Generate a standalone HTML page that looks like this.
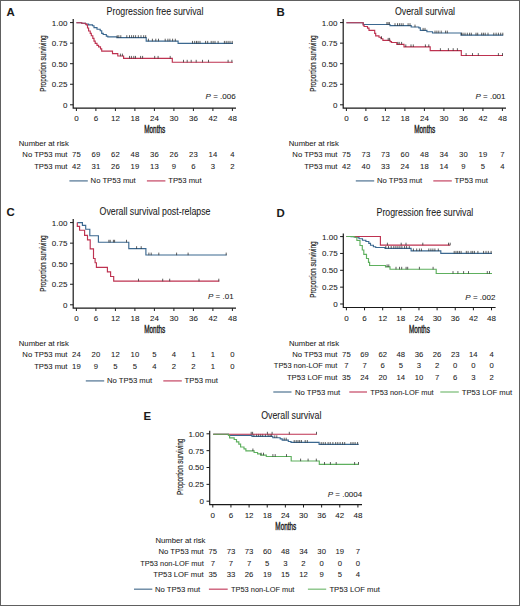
<!DOCTYPE html>
<html><head><meta charset="utf-8"><style>
html,body{margin:0;padding:0;background:#fff;}
body{width:520px;height:606px;overflow:hidden;}
svg{display:block;}
svg text{font-family:"Liberation Sans", sans-serif;fill:#1a1a1a;stroke:#1a1a1a;stroke-width:0.06px;}
</style></head><body>
<svg width="520" height="606" viewBox="0 0 520 606">
<rect x="0" y="0" width="520" height="606" fill="#fff"/>
<text transform="translate(6.50,16.00)" font-size="11.4" font-weight="bold">A</text>
<text transform="translate(155.00,14.70) scale(0.978,1.12)" font-size="9.0" text-anchor="middle">Progression free survival</text>
<path d="M73.20 19.00V108.20H236.00" fill="none" stroke="#1a1a1a" stroke-width="1.2"/>
<line x1="70.00" y1="22.60" x2="73.20" y2="22.60" stroke="#1a1a1a" stroke-width="1.0"/>
<text transform="translate(67.40,25.50)" font-size="8.0" text-anchor="end">1.00</text>
<line x1="70.00" y1="43.15" x2="73.20" y2="43.15" stroke="#1a1a1a" stroke-width="1.0"/>
<text transform="translate(67.40,46.05)" font-size="8.0" text-anchor="end">0.75</text>
<line x1="70.00" y1="63.70" x2="73.20" y2="63.70" stroke="#1a1a1a" stroke-width="1.0"/>
<text transform="translate(67.40,66.60)" font-size="8.0" text-anchor="end">0.50</text>
<line x1="70.00" y1="84.25" x2="73.20" y2="84.25" stroke="#1a1a1a" stroke-width="1.0"/>
<text transform="translate(67.40,87.15)" font-size="8.0" text-anchor="end">0.25</text>
<line x1="70.00" y1="104.80" x2="73.20" y2="104.80" stroke="#1a1a1a" stroke-width="1.0"/>
<text transform="translate(67.40,107.70)" font-size="8.0" text-anchor="end">0</text>
<line x1="76.40" y1="108.20" x2="76.40" y2="111.00" stroke="#1a1a1a" stroke-width="1.0"/>
<text transform="translate(76.40,120.90)" font-size="8.0" text-anchor="middle">0</text>
<line x1="95.90" y1="108.20" x2="95.90" y2="111.00" stroke="#1a1a1a" stroke-width="1.0"/>
<text transform="translate(95.90,120.90)" font-size="8.0" text-anchor="middle">6</text>
<line x1="115.40" y1="108.20" x2="115.40" y2="111.00" stroke="#1a1a1a" stroke-width="1.0"/>
<text transform="translate(115.40,120.90)" font-size="8.0" text-anchor="middle">12</text>
<line x1="134.90" y1="108.20" x2="134.90" y2="111.00" stroke="#1a1a1a" stroke-width="1.0"/>
<text transform="translate(134.90,120.90)" font-size="8.0" text-anchor="middle">18</text>
<line x1="154.40" y1="108.20" x2="154.40" y2="111.00" stroke="#1a1a1a" stroke-width="1.0"/>
<text transform="translate(154.40,120.90)" font-size="8.0" text-anchor="middle">24</text>
<line x1="173.90" y1="108.20" x2="173.90" y2="111.00" stroke="#1a1a1a" stroke-width="1.0"/>
<text transform="translate(173.90,120.90)" font-size="8.0" text-anchor="middle">30</text>
<line x1="193.40" y1="108.20" x2="193.40" y2="111.00" stroke="#1a1a1a" stroke-width="1.0"/>
<text transform="translate(193.40,120.90)" font-size="8.0" text-anchor="middle">36</text>
<line x1="212.90" y1="108.20" x2="212.90" y2="111.00" stroke="#1a1a1a" stroke-width="1.0"/>
<text transform="translate(212.90,120.90)" font-size="8.0" text-anchor="middle">42</text>
<line x1="232.40" y1="108.20" x2="232.40" y2="111.00" stroke="#1a1a1a" stroke-width="1.0"/>
<text transform="translate(232.40,120.90)" font-size="8.0" text-anchor="middle">48</text>
<text transform="translate(46.00,63.60) rotate(-90) scale(0.71,1.07)" font-size="9.0" style="stroke-width:0.15px" text-anchor="middle">Proportion surviving</text>
<text transform="translate(154.70,133.40) scale(0.71,1.15)" font-size="9.0" style="stroke-width:0.35px" text-anchor="middle">Months</text>
<text transform="translate(235.60,98.50) scale(1,1.0)" font-size="8" text-anchor="end"><tspan font-style="italic">P</tspan> = .006</text>
<text transform="translate(18.80,145.80)" font-size="7.7">Number at risk</text>
<text transform="translate(67.50,157.00)" font-size="7.7" text-anchor="end">No TP53 mut</text>
<text transform="translate(76.40,157.00)" font-size="7.7" text-anchor="middle">75</text>
<text transform="translate(95.90,157.00)" font-size="7.7" text-anchor="middle">69</text>
<text transform="translate(115.40,157.00)" font-size="7.7" text-anchor="middle">62</text>
<text transform="translate(134.90,157.00)" font-size="7.7" text-anchor="middle">48</text>
<text transform="translate(154.40,157.00)" font-size="7.7" text-anchor="middle">36</text>
<text transform="translate(173.90,157.00)" font-size="7.7" text-anchor="middle">26</text>
<text transform="translate(193.40,157.00)" font-size="7.7" text-anchor="middle">23</text>
<text transform="translate(212.90,157.00)" font-size="7.7" text-anchor="middle">14</text>
<text transform="translate(232.40,157.00)" font-size="7.7" text-anchor="middle">4</text>
<text transform="translate(67.50,168.80)" font-size="7.7" text-anchor="end">TP53 mut</text>
<text transform="translate(76.40,168.80)" font-size="7.7" text-anchor="middle">42</text>
<text transform="translate(95.90,168.80)" font-size="7.7" text-anchor="middle">31</text>
<text transform="translate(115.40,168.80)" font-size="7.7" text-anchor="middle">26</text>
<text transform="translate(134.90,168.80)" font-size="7.7" text-anchor="middle">19</text>
<text transform="translate(154.40,168.80)" font-size="7.7" text-anchor="middle">13</text>
<text transform="translate(173.90,168.80)" font-size="7.7" text-anchor="middle">9</text>
<text transform="translate(193.40,168.80)" font-size="7.7" text-anchor="middle">6</text>
<text transform="translate(212.90,168.80)" font-size="7.7" text-anchor="middle">3</text>
<text transform="translate(232.40,168.80)" font-size="7.7" text-anchor="middle">2</text>
<path d="M76.40 22.70H81.70V23.20H85.50V24.00H88.60V24.80H92.50V25.70H94.00V27.60H97.00V29.20H100.20V30.70H101.70V33.40H103.20V34.50H106.30V36.10H107.80V36.80H116.90V37.60H146.20V41.10H178.10V43.30H233.00" fill="none" stroke="#3b6890" stroke-width="1.15"/>
<line x1="117.20" y1="37.80" x2="117.20" y2="35.20" stroke="#2a2a2a" stroke-width="0.75"/>
<line x1="118.80" y1="37.80" x2="118.80" y2="35.20" stroke="#2a2a2a" stroke-width="0.75"/>
<line x1="120.80" y1="37.80" x2="120.80" y2="35.20" stroke="#2a2a2a" stroke-width="0.75"/>
<line x1="126.80" y1="37.80" x2="126.80" y2="35.20" stroke="#2a2a2a" stroke-width="0.75"/>
<line x1="129.50" y1="37.80" x2="129.50" y2="35.20" stroke="#2a2a2a" stroke-width="0.75"/>
<line x1="131.60" y1="37.80" x2="131.60" y2="35.20" stroke="#2a2a2a" stroke-width="0.75"/>
<line x1="133.60" y1="37.80" x2="133.60" y2="35.20" stroke="#2a2a2a" stroke-width="0.75"/>
<line x1="135.60" y1="37.80" x2="135.60" y2="35.20" stroke="#2a2a2a" stroke-width="0.75"/>
<line x1="138.30" y1="37.80" x2="138.30" y2="35.20" stroke="#2a2a2a" stroke-width="0.75"/>
<line x1="141.00" y1="37.80" x2="141.00" y2="35.20" stroke="#2a2a2a" stroke-width="0.75"/>
<line x1="143.70" y1="37.80" x2="143.70" y2="35.20" stroke="#2a2a2a" stroke-width="0.75"/>
<line x1="145.70" y1="37.80" x2="145.70" y2="35.20" stroke="#2a2a2a" stroke-width="0.75"/>
<line x1="148.40" y1="41.30" x2="148.40" y2="38.70" stroke="#2a2a2a" stroke-width="0.75"/>
<line x1="152.40" y1="41.30" x2="152.40" y2="38.70" stroke="#2a2a2a" stroke-width="0.75"/>
<line x1="155.80" y1="41.30" x2="155.80" y2="38.70" stroke="#2a2a2a" stroke-width="0.75"/>
<line x1="158.50" y1="41.30" x2="158.50" y2="38.70" stroke="#2a2a2a" stroke-width="0.75"/>
<line x1="165.20" y1="41.30" x2="165.20" y2="38.70" stroke="#2a2a2a" stroke-width="0.75"/>
<line x1="167.90" y1="41.30" x2="167.90" y2="38.70" stroke="#2a2a2a" stroke-width="0.75"/>
<line x1="169.90" y1="41.30" x2="169.90" y2="38.70" stroke="#2a2a2a" stroke-width="0.75"/>
<line x1="172.60" y1="41.30" x2="172.60" y2="38.70" stroke="#2a2a2a" stroke-width="0.75"/>
<line x1="175.30" y1="41.30" x2="175.30" y2="38.70" stroke="#2a2a2a" stroke-width="0.75"/>
<line x1="192.50" y1="43.50" x2="192.50" y2="40.90" stroke="#2a2a2a" stroke-width="0.75"/>
<line x1="194.70" y1="43.50" x2="194.70" y2="40.90" stroke="#2a2a2a" stroke-width="0.75"/>
<line x1="196.50" y1="43.50" x2="196.50" y2="40.90" stroke="#2a2a2a" stroke-width="0.75"/>
<line x1="198.10" y1="43.50" x2="198.10" y2="40.90" stroke="#2a2a2a" stroke-width="0.75"/>
<line x1="200.00" y1="43.50" x2="200.00" y2="40.90" stroke="#2a2a2a" stroke-width="0.75"/>
<line x1="205.60" y1="43.50" x2="205.60" y2="40.90" stroke="#2a2a2a" stroke-width="0.75"/>
<line x1="207.70" y1="43.50" x2="207.70" y2="40.90" stroke="#2a2a2a" stroke-width="0.75"/>
<line x1="211.20" y1="43.50" x2="211.20" y2="40.90" stroke="#2a2a2a" stroke-width="0.75"/>
<line x1="213.10" y1="43.50" x2="213.10" y2="40.90" stroke="#2a2a2a" stroke-width="0.75"/>
<line x1="215.00" y1="43.50" x2="215.00" y2="40.90" stroke="#2a2a2a" stroke-width="0.75"/>
<line x1="218.10" y1="43.50" x2="218.10" y2="40.90" stroke="#2a2a2a" stroke-width="0.75"/>
<line x1="224.40" y1="43.50" x2="224.40" y2="40.90" stroke="#2a2a2a" stroke-width="0.75"/>
<line x1="226.20" y1="43.50" x2="226.20" y2="40.90" stroke="#2a2a2a" stroke-width="0.75"/>
<line x1="228.10" y1="43.50" x2="228.10" y2="40.90" stroke="#2a2a2a" stroke-width="0.75"/>
<line x1="230.00" y1="43.50" x2="230.00" y2="40.90" stroke="#2a2a2a" stroke-width="0.75"/>
<line x1="232.20" y1="43.50" x2="232.20" y2="40.90" stroke="#2a2a2a" stroke-width="0.75"/>
<path d="M76.40 22.70H81.70V23.20H85.50V24.00H86.30V24.90H87.50V28.00H88.60V31.00H90.20V33.40H91.30V35.70H92.80V38.40H94.00V41.10H95.20V43.40H97.00V45.30H98.60V46.80H100.50V48.80H101.70V51.10H112.50V53.60H117.80V56.00H123.60V58.30H172.30V62.20H232.80" fill="none" stroke="#be3250" stroke-width="1.15"/>
<line x1="120.40" y1="56.20" x2="120.40" y2="53.60" stroke="#2a2a2a" stroke-width="0.75"/>
<line x1="122.40" y1="56.20" x2="122.40" y2="53.60" stroke="#2a2a2a" stroke-width="0.75"/>
<line x1="129.50" y1="58.50" x2="129.50" y2="55.90" stroke="#2a2a2a" stroke-width="0.75"/>
<line x1="131.40" y1="58.50" x2="131.40" y2="55.90" stroke="#2a2a2a" stroke-width="0.75"/>
<line x1="133.80" y1="58.50" x2="133.80" y2="55.90" stroke="#2a2a2a" stroke-width="0.75"/>
<line x1="135.50" y1="58.50" x2="135.50" y2="55.90" stroke="#2a2a2a" stroke-width="0.75"/>
<line x1="140.60" y1="58.50" x2="140.60" y2="55.90" stroke="#2a2a2a" stroke-width="0.75"/>
<line x1="142.60" y1="58.50" x2="142.60" y2="55.90" stroke="#2a2a2a" stroke-width="0.75"/>
<line x1="154.70" y1="58.50" x2="154.70" y2="55.90" stroke="#2a2a2a" stroke-width="0.75"/>
<line x1="158.10" y1="58.50" x2="158.10" y2="55.90" stroke="#2a2a2a" stroke-width="0.75"/>
<line x1="170.20" y1="58.50" x2="170.20" y2="55.90" stroke="#2a2a2a" stroke-width="0.75"/>
<line x1="183.50" y1="62.40" x2="183.50" y2="59.80" stroke="#2a2a2a" stroke-width="0.75"/>
<line x1="187.20" y1="62.40" x2="187.20" y2="59.80" stroke="#2a2a2a" stroke-width="0.75"/>
<line x1="191.20" y1="62.40" x2="191.20" y2="59.80" stroke="#2a2a2a" stroke-width="0.75"/>
<line x1="196.20" y1="62.40" x2="196.20" y2="59.80" stroke="#2a2a2a" stroke-width="0.75"/>
<line x1="202.50" y1="62.40" x2="202.50" y2="59.80" stroke="#2a2a2a" stroke-width="0.75"/>
<line x1="208.50" y1="62.40" x2="208.50" y2="59.80" stroke="#2a2a2a" stroke-width="0.75"/>
<line x1="228.10" y1="62.40" x2="228.10" y2="59.80" stroke="#2a2a2a" stroke-width="0.75"/>
<line x1="231.90" y1="62.40" x2="231.90" y2="59.80" stroke="#2a2a2a" stroke-width="0.75"/>
<line x1="69.40" y1="180.90" x2="87.80" y2="180.90" stroke="#5b7d9a" stroke-width="1.3"/>
<text transform="translate(90.60,183.40)" font-size="7.7">No TP53 mut</text>
<line x1="146.90" y1="180.90" x2="165.40" y2="180.90" stroke="#c9526e" stroke-width="1.3"/>
<text transform="translate(168.20,183.40)" font-size="7.7">TP53 mut</text>
<text transform="translate(276.50,16.00)" font-size="11.4" font-weight="bold">B</text>
<text transform="translate(425.00,14.70) scale(0.978,1.12)" font-size="9.0" text-anchor="middle">Overall survival</text>
<path d="M343.20 19.00V108.20H506.00" fill="none" stroke="#1a1a1a" stroke-width="1.2"/>
<line x1="340.00" y1="22.60" x2="343.20" y2="22.60" stroke="#1a1a1a" stroke-width="1.0"/>
<text transform="translate(337.40,25.50)" font-size="8.0" text-anchor="end">1.00</text>
<line x1="340.00" y1="43.15" x2="343.20" y2="43.15" stroke="#1a1a1a" stroke-width="1.0"/>
<text transform="translate(337.40,46.05)" font-size="8.0" text-anchor="end">0.75</text>
<line x1="340.00" y1="63.70" x2="343.20" y2="63.70" stroke="#1a1a1a" stroke-width="1.0"/>
<text transform="translate(337.40,66.60)" font-size="8.0" text-anchor="end">0.50</text>
<line x1="340.00" y1="84.25" x2="343.20" y2="84.25" stroke="#1a1a1a" stroke-width="1.0"/>
<text transform="translate(337.40,87.15)" font-size="8.0" text-anchor="end">0.25</text>
<line x1="340.00" y1="104.80" x2="343.20" y2="104.80" stroke="#1a1a1a" stroke-width="1.0"/>
<text transform="translate(337.40,107.70)" font-size="8.0" text-anchor="end">0</text>
<line x1="346.40" y1="108.20" x2="346.40" y2="111.00" stroke="#1a1a1a" stroke-width="1.0"/>
<text transform="translate(346.40,120.90)" font-size="8.0" text-anchor="middle">0</text>
<line x1="365.90" y1="108.20" x2="365.90" y2="111.00" stroke="#1a1a1a" stroke-width="1.0"/>
<text transform="translate(365.90,120.90)" font-size="8.0" text-anchor="middle">6</text>
<line x1="385.40" y1="108.20" x2="385.40" y2="111.00" stroke="#1a1a1a" stroke-width="1.0"/>
<text transform="translate(385.40,120.90)" font-size="8.0" text-anchor="middle">12</text>
<line x1="404.90" y1="108.20" x2="404.90" y2="111.00" stroke="#1a1a1a" stroke-width="1.0"/>
<text transform="translate(404.90,120.90)" font-size="8.0" text-anchor="middle">18</text>
<line x1="424.40" y1="108.20" x2="424.40" y2="111.00" stroke="#1a1a1a" stroke-width="1.0"/>
<text transform="translate(424.40,120.90)" font-size="8.0" text-anchor="middle">24</text>
<line x1="443.90" y1="108.20" x2="443.90" y2="111.00" stroke="#1a1a1a" stroke-width="1.0"/>
<text transform="translate(443.90,120.90)" font-size="8.0" text-anchor="middle">30</text>
<line x1="463.40" y1="108.20" x2="463.40" y2="111.00" stroke="#1a1a1a" stroke-width="1.0"/>
<text transform="translate(463.40,120.90)" font-size="8.0" text-anchor="middle">36</text>
<line x1="482.90" y1="108.20" x2="482.90" y2="111.00" stroke="#1a1a1a" stroke-width="1.0"/>
<text transform="translate(482.90,120.90)" font-size="8.0" text-anchor="middle">42</text>
<line x1="502.40" y1="108.20" x2="502.40" y2="111.00" stroke="#1a1a1a" stroke-width="1.0"/>
<text transform="translate(502.40,120.90)" font-size="8.0" text-anchor="middle">48</text>
<text transform="translate(316.00,63.60) rotate(-90) scale(0.71,1.07)" font-size="9.0" style="stroke-width:0.15px" text-anchor="middle">Proportion surviving</text>
<text transform="translate(424.70,133.40) scale(0.71,1.15)" font-size="9.0" style="stroke-width:0.35px" text-anchor="middle">Months</text>
<text transform="translate(505.50,98.50) scale(1,1.0)" font-size="8" text-anchor="end"><tspan font-style="italic">P</tspan> = .001</text>
<text transform="translate(288.80,145.80)" font-size="7.7">Number at risk</text>
<text transform="translate(337.50,157.00)" font-size="7.7" text-anchor="end">No TP53 mut</text>
<text transform="translate(346.40,157.00)" font-size="7.7" text-anchor="middle">75</text>
<text transform="translate(365.90,157.00)" font-size="7.7" text-anchor="middle">73</text>
<text transform="translate(385.40,157.00)" font-size="7.7" text-anchor="middle">73</text>
<text transform="translate(404.90,157.00)" font-size="7.7" text-anchor="middle">60</text>
<text transform="translate(424.40,157.00)" font-size="7.7" text-anchor="middle">48</text>
<text transform="translate(443.90,157.00)" font-size="7.7" text-anchor="middle">34</text>
<text transform="translate(463.40,157.00)" font-size="7.7" text-anchor="middle">30</text>
<text transform="translate(482.90,157.00)" font-size="7.7" text-anchor="middle">19</text>
<text transform="translate(502.40,157.00)" font-size="7.7" text-anchor="middle">7</text>
<text transform="translate(337.50,168.80)" font-size="7.7" text-anchor="end">TP53 mut</text>
<text transform="translate(346.40,168.80)" font-size="7.7" text-anchor="middle">42</text>
<text transform="translate(365.90,168.80)" font-size="7.7" text-anchor="middle">40</text>
<text transform="translate(385.40,168.80)" font-size="7.7" text-anchor="middle">33</text>
<text transform="translate(404.90,168.80)" font-size="7.7" text-anchor="middle">24</text>
<text transform="translate(424.40,168.80)" font-size="7.7" text-anchor="middle">18</text>
<text transform="translate(443.90,168.80)" font-size="7.7" text-anchor="middle">14</text>
<text transform="translate(463.40,168.80)" font-size="7.7" text-anchor="middle">9</text>
<text transform="translate(482.90,168.80)" font-size="7.7" text-anchor="middle">5</text>
<text transform="translate(502.40,168.80)" font-size="7.7" text-anchor="middle">4</text>
<path d="M346.40 22.70H363.20V24.50H390.00V25.60H411.20V27.00H418.80V27.80H420.30V30.30H426.90V31.70H432.50V33.00H461.00V35.10H503.20" fill="none" stroke="#3b6890" stroke-width="1.15"/>
<line x1="386.90" y1="24.70" x2="386.90" y2="22.10" stroke="#2a2a2a" stroke-width="0.75"/>
<line x1="388.10" y1="24.70" x2="388.10" y2="22.10" stroke="#2a2a2a" stroke-width="0.75"/>
<line x1="389.40" y1="24.70" x2="389.40" y2="22.10" stroke="#2a2a2a" stroke-width="0.75"/>
<line x1="395.00" y1="25.80" x2="395.00" y2="23.20" stroke="#2a2a2a" stroke-width="0.75"/>
<line x1="397.50" y1="25.80" x2="397.50" y2="23.20" stroke="#2a2a2a" stroke-width="0.75"/>
<line x1="399.40" y1="25.80" x2="399.40" y2="23.20" stroke="#2a2a2a" stroke-width="0.75"/>
<line x1="401.20" y1="25.80" x2="401.20" y2="23.20" stroke="#2a2a2a" stroke-width="0.75"/>
<line x1="403.10" y1="25.80" x2="403.10" y2="23.20" stroke="#2a2a2a" stroke-width="0.75"/>
<line x1="408.10" y1="25.80" x2="408.10" y2="23.20" stroke="#2a2a2a" stroke-width="0.75"/>
<line x1="410.00" y1="25.80" x2="410.00" y2="23.20" stroke="#2a2a2a" stroke-width="0.75"/>
<line x1="415.00" y1="27.20" x2="415.00" y2="24.60" stroke="#2a2a2a" stroke-width="0.75"/>
<line x1="423.10" y1="30.50" x2="423.10" y2="27.90" stroke="#2a2a2a" stroke-width="0.75"/>
<line x1="425.00" y1="30.50" x2="425.00" y2="27.90" stroke="#2a2a2a" stroke-width="0.75"/>
<line x1="435.00" y1="33.20" x2="435.00" y2="30.60" stroke="#2a2a2a" stroke-width="0.75"/>
<line x1="436.90" y1="33.20" x2="436.90" y2="30.60" stroke="#2a2a2a" stroke-width="0.75"/>
<line x1="438.80" y1="33.20" x2="438.80" y2="30.60" stroke="#2a2a2a" stroke-width="0.75"/>
<line x1="441.20" y1="33.20" x2="441.20" y2="30.60" stroke="#2a2a2a" stroke-width="0.75"/>
<line x1="445.60" y1="33.20" x2="445.60" y2="30.60" stroke="#2a2a2a" stroke-width="0.75"/>
<line x1="447.30" y1="33.20" x2="447.30" y2="30.60" stroke="#2a2a2a" stroke-width="0.75"/>
<line x1="461.50" y1="35.30" x2="461.50" y2="32.70" stroke="#2a2a2a" stroke-width="0.75"/>
<line x1="463.00" y1="35.30" x2="463.00" y2="32.70" stroke="#2a2a2a" stroke-width="0.75"/>
<line x1="465.00" y1="35.30" x2="465.00" y2="32.70" stroke="#2a2a2a" stroke-width="0.75"/>
<line x1="467.30" y1="35.30" x2="467.30" y2="32.70" stroke="#2a2a2a" stroke-width="0.75"/>
<line x1="469.60" y1="35.30" x2="469.60" y2="32.70" stroke="#2a2a2a" stroke-width="0.75"/>
<line x1="471.30" y1="35.30" x2="471.30" y2="32.70" stroke="#2a2a2a" stroke-width="0.75"/>
<line x1="476.00" y1="35.30" x2="476.00" y2="32.70" stroke="#2a2a2a" stroke-width="0.75"/>
<line x1="477.70" y1="35.30" x2="477.70" y2="32.70" stroke="#2a2a2a" stroke-width="0.75"/>
<line x1="481.70" y1="35.30" x2="481.70" y2="32.70" stroke="#2a2a2a" stroke-width="0.75"/>
<line x1="483.40" y1="35.30" x2="483.40" y2="32.70" stroke="#2a2a2a" stroke-width="0.75"/>
<line x1="485.20" y1="35.30" x2="485.20" y2="32.70" stroke="#2a2a2a" stroke-width="0.75"/>
<line x1="488.00" y1="35.30" x2="488.00" y2="32.70" stroke="#2a2a2a" stroke-width="0.75"/>
<line x1="493.80" y1="35.30" x2="493.80" y2="32.70" stroke="#2a2a2a" stroke-width="0.75"/>
<line x1="496.10" y1="35.30" x2="496.10" y2="32.70" stroke="#2a2a2a" stroke-width="0.75"/>
<line x1="498.40" y1="35.30" x2="498.40" y2="32.70" stroke="#2a2a2a" stroke-width="0.75"/>
<line x1="500.70" y1="35.30" x2="500.70" y2="32.70" stroke="#2a2a2a" stroke-width="0.75"/>
<line x1="502.80" y1="35.30" x2="502.80" y2="32.70" stroke="#2a2a2a" stroke-width="0.75"/>
<path d="M346.40 22.70H363.20V25.20H364.10V26.50H367.50V28.10H369.00V30.30H374.70V33.40H375.70V35.80H379.00V37.20H381.00V38.70H382.90V40.30H390.10V41.60H391.50V42.50H396.80V44.30H404.00V46.80H430.20V50.60H461.30V55.50H503.00" fill="none" stroke="#be3250" stroke-width="1.15"/>
<line x1="381.50" y1="38.90" x2="381.50" y2="36.30" stroke="#2a2a2a" stroke-width="0.75"/>
<line x1="388.20" y1="40.50" x2="388.20" y2="37.90" stroke="#2a2a2a" stroke-width="0.75"/>
<line x1="389.60" y1="40.50" x2="389.60" y2="37.90" stroke="#2a2a2a" stroke-width="0.75"/>
<line x1="397.80" y1="44.50" x2="397.80" y2="41.90" stroke="#2a2a2a" stroke-width="0.75"/>
<line x1="399.20" y1="44.50" x2="399.20" y2="41.90" stroke="#2a2a2a" stroke-width="0.75"/>
<line x1="401.60" y1="44.50" x2="401.60" y2="41.90" stroke="#2a2a2a" stroke-width="0.75"/>
<line x1="405.80" y1="47.00" x2="405.80" y2="44.40" stroke="#2a2a2a" stroke-width="0.75"/>
<line x1="411.00" y1="47.00" x2="411.00" y2="44.40" stroke="#2a2a2a" stroke-width="0.75"/>
<line x1="413.30" y1="47.00" x2="413.30" y2="44.40" stroke="#2a2a2a" stroke-width="0.75"/>
<line x1="425.40" y1="47.00" x2="425.40" y2="44.40" stroke="#2a2a2a" stroke-width="0.75"/>
<line x1="428.80" y1="47.00" x2="428.80" y2="44.40" stroke="#2a2a2a" stroke-width="0.75"/>
<line x1="440.40" y1="50.80" x2="440.40" y2="48.20" stroke="#2a2a2a" stroke-width="0.75"/>
<line x1="448.40" y1="50.80" x2="448.40" y2="48.20" stroke="#2a2a2a" stroke-width="0.75"/>
<line x1="453.20" y1="50.80" x2="453.20" y2="48.20" stroke="#2a2a2a" stroke-width="0.75"/>
<line x1="457.40" y1="50.80" x2="457.40" y2="48.20" stroke="#2a2a2a" stroke-width="0.75"/>
<line x1="466.10" y1="55.70" x2="466.10" y2="53.10" stroke="#2a2a2a" stroke-width="0.75"/>
<line x1="472.50" y1="55.70" x2="472.50" y2="53.10" stroke="#2a2a2a" stroke-width="0.75"/>
<line x1="478.30" y1="55.70" x2="478.30" y2="53.10" stroke="#2a2a2a" stroke-width="0.75"/>
<line x1="498.40" y1="55.70" x2="498.40" y2="53.10" stroke="#2a2a2a" stroke-width="0.75"/>
<line x1="502.50" y1="55.70" x2="502.50" y2="53.10" stroke="#2a2a2a" stroke-width="0.75"/>
<line x1="355.80" y1="180.90" x2="374.20" y2="180.90" stroke="#5b7d9a" stroke-width="1.3"/>
<text transform="translate(377.00,183.40)" font-size="7.7">No TP53 mut</text>
<line x1="433.30" y1="180.90" x2="451.80" y2="180.90" stroke="#c9526e" stroke-width="1.3"/>
<text transform="translate(454.60,183.40)" font-size="7.7">TP53 mut</text>
<text transform="translate(6.50,216.00)" font-size="11.4" font-weight="bold">C</text>
<text transform="translate(155.00,214.70) scale(0.978,1.12)" font-size="9.0" text-anchor="middle">Overall survival post-relapse</text>
<path d="M73.20 219.00V308.20H236.00" fill="none" stroke="#1a1a1a" stroke-width="1.2"/>
<line x1="70.00" y1="222.60" x2="73.20" y2="222.60" stroke="#1a1a1a" stroke-width="1.0"/>
<text transform="translate(67.40,225.50)" font-size="8.0" text-anchor="end">1.00</text>
<line x1="70.00" y1="243.15" x2="73.20" y2="243.15" stroke="#1a1a1a" stroke-width="1.0"/>
<text transform="translate(67.40,246.05)" font-size="8.0" text-anchor="end">0.75</text>
<line x1="70.00" y1="263.70" x2="73.20" y2="263.70" stroke="#1a1a1a" stroke-width="1.0"/>
<text transform="translate(67.40,266.60)" font-size="8.0" text-anchor="end">0.50</text>
<line x1="70.00" y1="284.25" x2="73.20" y2="284.25" stroke="#1a1a1a" stroke-width="1.0"/>
<text transform="translate(67.40,287.15)" font-size="8.0" text-anchor="end">0.25</text>
<line x1="70.00" y1="304.80" x2="73.20" y2="304.80" stroke="#1a1a1a" stroke-width="1.0"/>
<text transform="translate(67.40,307.70)" font-size="8.0" text-anchor="end">0</text>
<line x1="76.40" y1="308.20" x2="76.40" y2="311.00" stroke="#1a1a1a" stroke-width="1.0"/>
<text transform="translate(76.40,320.90)" font-size="8.0" text-anchor="middle">0</text>
<line x1="95.90" y1="308.20" x2="95.90" y2="311.00" stroke="#1a1a1a" stroke-width="1.0"/>
<text transform="translate(95.90,320.90)" font-size="8.0" text-anchor="middle">6</text>
<line x1="115.40" y1="308.20" x2="115.40" y2="311.00" stroke="#1a1a1a" stroke-width="1.0"/>
<text transform="translate(115.40,320.90)" font-size="8.0" text-anchor="middle">12</text>
<line x1="134.90" y1="308.20" x2="134.90" y2="311.00" stroke="#1a1a1a" stroke-width="1.0"/>
<text transform="translate(134.90,320.90)" font-size="8.0" text-anchor="middle">18</text>
<line x1="154.40" y1="308.20" x2="154.40" y2="311.00" stroke="#1a1a1a" stroke-width="1.0"/>
<text transform="translate(154.40,320.90)" font-size="8.0" text-anchor="middle">24</text>
<line x1="173.90" y1="308.20" x2="173.90" y2="311.00" stroke="#1a1a1a" stroke-width="1.0"/>
<text transform="translate(173.90,320.90)" font-size="8.0" text-anchor="middle">30</text>
<line x1="193.40" y1="308.20" x2="193.40" y2="311.00" stroke="#1a1a1a" stroke-width="1.0"/>
<text transform="translate(193.40,320.90)" font-size="8.0" text-anchor="middle">36</text>
<line x1="212.90" y1="308.20" x2="212.90" y2="311.00" stroke="#1a1a1a" stroke-width="1.0"/>
<text transform="translate(212.90,320.90)" font-size="8.0" text-anchor="middle">42</text>
<line x1="232.40" y1="308.20" x2="232.40" y2="311.00" stroke="#1a1a1a" stroke-width="1.0"/>
<text transform="translate(232.40,320.90)" font-size="8.0" text-anchor="middle">48</text>
<text transform="translate(46.00,263.60) rotate(-90) scale(0.71,1.07)" font-size="9.0" style="stroke-width:0.15px" text-anchor="middle">Proportion surviving</text>
<text transform="translate(154.70,333.40) scale(0.71,1.15)" font-size="9.0" style="stroke-width:0.35px" text-anchor="middle">Months</text>
<text transform="translate(233.60,298.50) scale(1,1.0)" font-size="8" text-anchor="end"><tspan font-style="italic">P</tspan> = .01</text>
<text transform="translate(18.80,345.80)" font-size="7.7">Number at risk</text>
<text transform="translate(67.50,357.00)" font-size="7.7" text-anchor="end">No TP53 mut</text>
<text transform="translate(76.40,357.00)" font-size="7.7" text-anchor="middle">24</text>
<text transform="translate(95.90,357.00)" font-size="7.7" text-anchor="middle">20</text>
<text transform="translate(115.40,357.00)" font-size="7.7" text-anchor="middle">12</text>
<text transform="translate(134.90,357.00)" font-size="7.7" text-anchor="middle">10</text>
<text transform="translate(154.40,357.00)" font-size="7.7" text-anchor="middle">5</text>
<text transform="translate(173.90,357.00)" font-size="7.7" text-anchor="middle">4</text>
<text transform="translate(193.40,357.00)" font-size="7.7" text-anchor="middle">1</text>
<text transform="translate(212.90,357.00)" font-size="7.7" text-anchor="middle">1</text>
<text transform="translate(232.40,357.00)" font-size="7.7" text-anchor="middle">0</text>
<text transform="translate(67.50,368.80)" font-size="7.7" text-anchor="end">TP53 mut</text>
<text transform="translate(76.40,368.80)" font-size="7.7" text-anchor="middle">19</text>
<text transform="translate(95.90,368.80)" font-size="7.7" text-anchor="middle">9</text>
<text transform="translate(115.40,368.80)" font-size="7.7" text-anchor="middle">5</text>
<text transform="translate(134.90,368.80)" font-size="7.7" text-anchor="middle">5</text>
<text transform="translate(154.40,368.80)" font-size="7.7" text-anchor="middle">4</text>
<text transform="translate(173.90,368.80)" font-size="7.7" text-anchor="middle">2</text>
<text transform="translate(193.40,368.80)" font-size="7.7" text-anchor="middle">2</text>
<text transform="translate(212.90,368.80)" font-size="7.7" text-anchor="middle">1</text>
<text transform="translate(232.40,368.80)" font-size="7.7" text-anchor="middle">0</text>
<path d="M77.30 222.60H82.40V225.30H85.70V229.20H89.80V235.70H98.40V242.20H128.80V248.60H145.90V255.00H226.70" fill="none" stroke="#3b6890" stroke-width="1.15"/>
<line x1="108.90" y1="242.40" x2="108.90" y2="239.80" stroke="#2a2a2a" stroke-width="0.75"/>
<line x1="110.20" y1="242.40" x2="110.20" y2="239.80" stroke="#2a2a2a" stroke-width="0.75"/>
<line x1="113.40" y1="242.40" x2="113.40" y2="239.80" stroke="#2a2a2a" stroke-width="0.75"/>
<line x1="114.60" y1="242.40" x2="114.60" y2="239.80" stroke="#2a2a2a" stroke-width="0.75"/>
<line x1="126.50" y1="242.40" x2="126.50" y2="239.80" stroke="#2a2a2a" stroke-width="0.75"/>
<line x1="136.60" y1="248.80" x2="136.60" y2="246.20" stroke="#2a2a2a" stroke-width="0.75"/>
<line x1="141.20" y1="248.80" x2="141.20" y2="246.20" stroke="#2a2a2a" stroke-width="0.75"/>
<line x1="148.90" y1="255.20" x2="148.90" y2="252.60" stroke="#2a2a2a" stroke-width="0.75"/>
<line x1="151.20" y1="255.20" x2="151.20" y2="252.60" stroke="#2a2a2a" stroke-width="0.75"/>
<line x1="158.80" y1="255.20" x2="158.80" y2="252.60" stroke="#2a2a2a" stroke-width="0.75"/>
<line x1="176.60" y1="255.20" x2="176.60" y2="252.60" stroke="#2a2a2a" stroke-width="0.75"/>
<line x1="188.10" y1="255.20" x2="188.10" y2="252.60" stroke="#2a2a2a" stroke-width="0.75"/>
<line x1="226.20" y1="255.20" x2="226.20" y2="252.60" stroke="#2a2a2a" stroke-width="0.75"/>
<path d="M77.30 222.60H77.30V226.40H79.60V230.20H84.60V235.30H87.50V239.80H90.20V248.80H93.50V258.50H95.10V262.70H96.40V267.30H107.40V271.90H110.60V276.50H113.70V281.10H219.30" fill="none" stroke="#be3250" stroke-width="1.15"/>
<line x1="138.50" y1="281.30" x2="138.50" y2="278.70" stroke="#2a2a2a" stroke-width="0.75"/>
<line x1="162.70" y1="281.30" x2="162.70" y2="278.70" stroke="#2a2a2a" stroke-width="0.75"/>
<line x1="169.70" y1="281.30" x2="169.70" y2="278.70" stroke="#2a2a2a" stroke-width="0.75"/>
<line x1="199.00" y1="281.30" x2="199.00" y2="278.70" stroke="#2a2a2a" stroke-width="0.75"/>
<line x1="218.80" y1="281.30" x2="218.80" y2="278.70" stroke="#2a2a2a" stroke-width="0.75"/>
<line x1="85.80" y1="380.90" x2="104.20" y2="380.90" stroke="#5b7d9a" stroke-width="1.3"/>
<text transform="translate(107.00,383.40)" font-size="7.7">No TP53 mut</text>
<line x1="163.30" y1="380.90" x2="181.80" y2="380.90" stroke="#c9526e" stroke-width="1.3"/>
<text transform="translate(184.60,383.40)" font-size="7.7">TP53 mut</text>
<text transform="translate(276.60,216.50)" font-size="11.4" font-weight="bold">D</text>
<text transform="translate(424.90,215.60) scale(0.978,1.12)" font-size="9.0" text-anchor="middle">Progression free survival</text>
<path d="M343.30 233.50V307.50H495.60" fill="none" stroke="#1a1a1a" stroke-width="1.2"/>
<line x1="340.10" y1="236.60" x2="343.30" y2="236.60" stroke="#1a1a1a" stroke-width="1.0"/>
<text transform="translate(337.60,239.50)" font-size="8.0" text-anchor="end">1.00</text>
<line x1="340.10" y1="253.45" x2="343.30" y2="253.45" stroke="#1a1a1a" stroke-width="1.0"/>
<text transform="translate(337.60,256.35)" font-size="8.0" text-anchor="end">0.75</text>
<line x1="340.10" y1="270.30" x2="343.30" y2="270.30" stroke="#1a1a1a" stroke-width="1.0"/>
<text transform="translate(337.60,273.20)" font-size="8.0" text-anchor="end">0.50</text>
<line x1="340.10" y1="287.15" x2="343.30" y2="287.15" stroke="#1a1a1a" stroke-width="1.0"/>
<text transform="translate(337.60,290.05)" font-size="8.0" text-anchor="end">0.25</text>
<line x1="340.10" y1="304.00" x2="343.30" y2="304.00" stroke="#1a1a1a" stroke-width="1.0"/>
<text transform="translate(337.60,306.90)" font-size="8.0" text-anchor="end">0</text>
<line x1="346.40" y1="307.50" x2="346.40" y2="310.30" stroke="#1a1a1a" stroke-width="1.0"/>
<text transform="translate(346.40,320.70)" font-size="8.0" text-anchor="middle">0</text>
<line x1="364.54" y1="307.50" x2="364.54" y2="310.30" stroke="#1a1a1a" stroke-width="1.0"/>
<text transform="translate(364.54,320.70)" font-size="8.0" text-anchor="middle">6</text>
<line x1="382.68" y1="307.50" x2="382.68" y2="310.30" stroke="#1a1a1a" stroke-width="1.0"/>
<text transform="translate(382.68,320.70)" font-size="8.0" text-anchor="middle">12</text>
<line x1="400.82" y1="307.50" x2="400.82" y2="310.30" stroke="#1a1a1a" stroke-width="1.0"/>
<text transform="translate(400.82,320.70)" font-size="8.0" text-anchor="middle">18</text>
<line x1="418.96" y1="307.50" x2="418.96" y2="310.30" stroke="#1a1a1a" stroke-width="1.0"/>
<text transform="translate(418.96,320.70)" font-size="8.0" text-anchor="middle">24</text>
<line x1="437.10" y1="307.50" x2="437.10" y2="310.30" stroke="#1a1a1a" stroke-width="1.0"/>
<text transform="translate(437.10,320.70)" font-size="8.0" text-anchor="middle">30</text>
<line x1="455.24" y1="307.50" x2="455.24" y2="310.30" stroke="#1a1a1a" stroke-width="1.0"/>
<text transform="translate(455.24,320.70)" font-size="8.0" text-anchor="middle">36</text>
<line x1="473.38" y1="307.50" x2="473.38" y2="310.30" stroke="#1a1a1a" stroke-width="1.0"/>
<text transform="translate(473.38,320.70)" font-size="8.0" text-anchor="middle">42</text>
<line x1="491.52" y1="307.50" x2="491.52" y2="310.30" stroke="#1a1a1a" stroke-width="1.0"/>
<text transform="translate(491.52,320.70)" font-size="8.0" text-anchor="middle">48</text>
<text transform="translate(316.40,269.60) rotate(-90) scale(0.71,1.07)" font-size="9.0" style="stroke-width:0.15px" text-anchor="middle">Proportion surviving</text>
<text transform="translate(419.40,333.20) scale(0.71,1.15)" font-size="9.0" style="stroke-width:0.35px" text-anchor="middle">Months</text>
<text transform="translate(495.40,299.60) scale(1,1.0)" font-size="8" text-anchor="end"><tspan font-style="italic">P</tspan> = .002</text>
<text transform="translate(289.00,345.70)" font-size="7.7">Number at risk</text>
<text transform="translate(337.30,356.90)" font-size="7.7" text-anchor="end">No TP53 mut</text>
<text transform="translate(346.40,356.90)" font-size="7.7" text-anchor="middle">75</text>
<text transform="translate(364.54,356.90)" font-size="7.7" text-anchor="middle">69</text>
<text transform="translate(382.68,356.90)" font-size="7.7" text-anchor="middle">62</text>
<text transform="translate(400.82,356.90)" font-size="7.7" text-anchor="middle">48</text>
<text transform="translate(418.96,356.90)" font-size="7.7" text-anchor="middle">36</text>
<text transform="translate(437.10,356.90)" font-size="7.7" text-anchor="middle">26</text>
<text transform="translate(455.24,356.90)" font-size="7.7" text-anchor="middle">23</text>
<text transform="translate(473.38,356.90)" font-size="7.7" text-anchor="middle">14</text>
<text transform="translate(491.52,356.90)" font-size="7.7" text-anchor="middle">4</text>
<text transform="translate(337.30,368.40) scale(0.965,1.0)" font-size="7.7" text-anchor="end">TP53 non-LOF mut</text>
<text transform="translate(346.40,368.40)" font-size="7.7" text-anchor="middle">7</text>
<text transform="translate(364.54,368.40)" font-size="7.7" text-anchor="middle">7</text>
<text transform="translate(382.68,368.40)" font-size="7.7" text-anchor="middle">6</text>
<text transform="translate(400.82,368.40)" font-size="7.7" text-anchor="middle">5</text>
<text transform="translate(418.96,368.40)" font-size="7.7" text-anchor="middle">3</text>
<text transform="translate(437.10,368.40)" font-size="7.7" text-anchor="middle">2</text>
<text transform="translate(455.24,368.40)" font-size="7.7" text-anchor="middle">0</text>
<text transform="translate(473.38,368.40)" font-size="7.7" text-anchor="middle">0</text>
<text transform="translate(491.52,368.40)" font-size="7.7" text-anchor="middle">0</text>
<text transform="translate(337.30,379.90)" font-size="7.7" text-anchor="end">TP53 LOF mut</text>
<text transform="translate(346.40,379.90)" font-size="7.7" text-anchor="middle">35</text>
<text transform="translate(364.54,379.90)" font-size="7.7" text-anchor="middle">24</text>
<text transform="translate(382.68,379.90)" font-size="7.7" text-anchor="middle">20</text>
<text transform="translate(400.82,379.90)" font-size="7.7" text-anchor="middle">14</text>
<text transform="translate(418.96,379.90)" font-size="7.7" text-anchor="middle">10</text>
<text transform="translate(437.10,379.90)" font-size="7.7" text-anchor="middle">7</text>
<text transform="translate(455.24,379.90)" font-size="7.7" text-anchor="middle">6</text>
<text transform="translate(473.38,379.90)" font-size="7.7" text-anchor="middle">3</text>
<text transform="translate(491.52,379.90)" font-size="7.7" text-anchor="middle">2</text>
<path d="M346.50 236.50H351.00V236.70H355.50V237.20H359.00V238.70H362.50V240.20H365.90V241.50H368.80V243.30H370.50V245.20H373.40V246.70H375.70V247.50H385.00V248.30H411.10V250.90H440.80V253.30H492.00" fill="none" stroke="#3b6890" stroke-width="1.15"/>
<line x1="385.80" y1="248.50" x2="385.80" y2="245.90" stroke="#2a2a2a" stroke-width="0.75"/>
<line x1="388.50" y1="248.50" x2="388.50" y2="245.90" stroke="#2a2a2a" stroke-width="0.75"/>
<line x1="391.20" y1="248.50" x2="391.20" y2="245.90" stroke="#2a2a2a" stroke-width="0.75"/>
<line x1="393.80" y1="248.50" x2="393.80" y2="245.90" stroke="#2a2a2a" stroke-width="0.75"/>
<line x1="395.90" y1="248.50" x2="395.90" y2="245.90" stroke="#2a2a2a" stroke-width="0.75"/>
<line x1="397.90" y1="248.50" x2="397.90" y2="245.90" stroke="#2a2a2a" stroke-width="0.75"/>
<line x1="399.90" y1="248.50" x2="399.90" y2="245.90" stroke="#2a2a2a" stroke-width="0.75"/>
<line x1="401.90" y1="248.50" x2="401.90" y2="245.90" stroke="#2a2a2a" stroke-width="0.75"/>
<line x1="404.60" y1="248.50" x2="404.60" y2="245.90" stroke="#2a2a2a" stroke-width="0.75"/>
<line x1="406.60" y1="248.50" x2="406.60" y2="245.90" stroke="#2a2a2a" stroke-width="0.75"/>
<line x1="409.30" y1="248.50" x2="409.30" y2="245.90" stroke="#2a2a2a" stroke-width="0.75"/>
<line x1="413.40" y1="251.10" x2="413.40" y2="248.50" stroke="#2a2a2a" stroke-width="0.75"/>
<line x1="416.70" y1="251.10" x2="416.70" y2="248.50" stroke="#2a2a2a" stroke-width="0.75"/>
<line x1="419.40" y1="251.10" x2="419.40" y2="248.50" stroke="#2a2a2a" stroke-width="0.75"/>
<line x1="421.40" y1="251.10" x2="421.40" y2="248.50" stroke="#2a2a2a" stroke-width="0.75"/>
<line x1="428.80" y1="251.10" x2="428.80" y2="248.50" stroke="#2a2a2a" stroke-width="0.75"/>
<line x1="430.90" y1="251.10" x2="430.90" y2="248.50" stroke="#2a2a2a" stroke-width="0.75"/>
<line x1="432.90" y1="251.10" x2="432.90" y2="248.50" stroke="#2a2a2a" stroke-width="0.75"/>
<line x1="434.90" y1="251.10" x2="434.90" y2="248.50" stroke="#2a2a2a" stroke-width="0.75"/>
<line x1="438.30" y1="251.10" x2="438.30" y2="248.50" stroke="#2a2a2a" stroke-width="0.75"/>
<line x1="454.20" y1="253.50" x2="454.20" y2="250.90" stroke="#2a2a2a" stroke-width="0.75"/>
<line x1="456.00" y1="253.50" x2="456.00" y2="250.90" stroke="#2a2a2a" stroke-width="0.75"/>
<line x1="457.70" y1="253.50" x2="457.70" y2="250.90" stroke="#2a2a2a" stroke-width="0.75"/>
<line x1="459.40" y1="253.50" x2="459.40" y2="250.90" stroke="#2a2a2a" stroke-width="0.75"/>
<line x1="461.10" y1="253.50" x2="461.10" y2="250.90" stroke="#2a2a2a" stroke-width="0.75"/>
<line x1="466.30" y1="253.50" x2="466.30" y2="250.90" stroke="#2a2a2a" stroke-width="0.75"/>
<line x1="468.10" y1="253.50" x2="468.10" y2="250.90" stroke="#2a2a2a" stroke-width="0.75"/>
<line x1="471.00" y1="253.50" x2="471.00" y2="250.90" stroke="#2a2a2a" stroke-width="0.75"/>
<line x1="472.70" y1="253.50" x2="472.70" y2="250.90" stroke="#2a2a2a" stroke-width="0.75"/>
<line x1="474.40" y1="253.50" x2="474.40" y2="250.90" stroke="#2a2a2a" stroke-width="0.75"/>
<line x1="477.90" y1="253.50" x2="477.90" y2="250.90" stroke="#2a2a2a" stroke-width="0.75"/>
<line x1="483.60" y1="253.50" x2="483.60" y2="250.90" stroke="#2a2a2a" stroke-width="0.75"/>
<line x1="486.00" y1="253.50" x2="486.00" y2="250.90" stroke="#2a2a2a" stroke-width="0.75"/>
<line x1="488.30" y1="253.50" x2="488.30" y2="250.90" stroke="#2a2a2a" stroke-width="0.75"/>
<line x1="491.10" y1="253.50" x2="491.10" y2="250.90" stroke="#2a2a2a" stroke-width="0.75"/>
<path d="M346.50 236.50H380.40V245.10H450.10" fill="none" stroke="#be3250" stroke-width="1.15"/>
<line x1="387.40" y1="245.30" x2="387.40" y2="242.70" stroke="#2a2a2a" stroke-width="0.75"/>
<line x1="401.20" y1="245.30" x2="401.20" y2="242.70" stroke="#2a2a2a" stroke-width="0.75"/>
<line x1="406.00" y1="245.30" x2="406.00" y2="242.70" stroke="#2a2a2a" stroke-width="0.75"/>
<line x1="422.80" y1="245.30" x2="422.80" y2="242.70" stroke="#2a2a2a" stroke-width="0.75"/>
<line x1="448.50" y1="245.30" x2="448.50" y2="242.70" stroke="#2a2a2a" stroke-width="0.75"/>
<line x1="450.20" y1="245.30" x2="450.20" y2="242.70" stroke="#2a2a2a" stroke-width="0.75"/>
<path d="M346.50 236.50H354.20V237.20H356.90V240.50H360.00V245.50H362.30V250.00H363.80V254.30H366.50V258.50H368.50V262.40H369.60V265.50H385.50V266.80H390.00V269.20H436.20V273.50H492.00" fill="none" stroke="#5eb05e" stroke-width="1.15"/>
<line x1="387.10" y1="267.00" x2="387.10" y2="264.40" stroke="#2a2a2a" stroke-width="0.75"/>
<line x1="388.80" y1="267.00" x2="388.80" y2="264.40" stroke="#2a2a2a" stroke-width="0.75"/>
<line x1="396.00" y1="269.40" x2="396.00" y2="266.80" stroke="#2a2a2a" stroke-width="0.75"/>
<line x1="399.50" y1="269.40" x2="399.50" y2="266.80" stroke="#2a2a2a" stroke-width="0.75"/>
<line x1="401.70" y1="269.40" x2="401.70" y2="266.80" stroke="#2a2a2a" stroke-width="0.75"/>
<line x1="406.10" y1="269.40" x2="406.10" y2="266.80" stroke="#2a2a2a" stroke-width="0.75"/>
<line x1="407.70" y1="269.40" x2="407.70" y2="266.80" stroke="#2a2a2a" stroke-width="0.75"/>
<line x1="419.40" y1="269.40" x2="419.40" y2="266.80" stroke="#2a2a2a" stroke-width="0.75"/>
<line x1="433.10" y1="269.40" x2="433.10" y2="266.80" stroke="#2a2a2a" stroke-width="0.75"/>
<line x1="453.00" y1="273.70" x2="453.00" y2="271.10" stroke="#2a2a2a" stroke-width="0.75"/>
<line x1="457.90" y1="273.70" x2="457.90" y2="271.10" stroke="#2a2a2a" stroke-width="0.75"/>
<line x1="463.60" y1="273.70" x2="463.60" y2="271.10" stroke="#2a2a2a" stroke-width="0.75"/>
<line x1="468.50" y1="273.70" x2="468.50" y2="271.10" stroke="#2a2a2a" stroke-width="0.75"/>
<line x1="487.30" y1="273.70" x2="487.30" y2="271.10" stroke="#2a2a2a" stroke-width="0.75"/>
<line x1="489.50" y1="273.70" x2="489.50" y2="271.10" stroke="#2a2a2a" stroke-width="0.75"/>
<line x1="273.30" y1="392.00" x2="291.50" y2="392.00" stroke="#5b7d9a" stroke-width="1.3"/>
<text transform="translate(295.00,394.60)" font-size="7.7">No TP53 mut</text>
<line x1="349.30" y1="392.00" x2="367.00" y2="392.00" stroke="#c9526e" stroke-width="1.3"/>
<text transform="translate(370.20,394.60) scale(0.965,1.0)" font-size="7.7">TP53 non-LOF mut</text>
<line x1="440.30" y1="392.00" x2="458.80" y2="392.00" stroke="#80c07e" stroke-width="1.3"/>
<text transform="translate(461.70,394.60)" font-size="7.7">TP53 LOF mut</text>
<text transform="translate(143.60,420.30)" font-size="11.4" font-weight="bold">E</text>
<text transform="translate(291.30,419.40) scale(0.978,1.12)" font-size="9.0" text-anchor="middle">Overall survival</text>
<path d="M209.70 430.70V504.70H362.00" fill="none" stroke="#1a1a1a" stroke-width="1.2"/>
<line x1="206.50" y1="433.80" x2="209.70" y2="433.80" stroke="#1a1a1a" stroke-width="1.0"/>
<text transform="translate(204.00,436.70)" font-size="8.0" text-anchor="end">1.00</text>
<line x1="206.50" y1="450.65" x2="209.70" y2="450.65" stroke="#1a1a1a" stroke-width="1.0"/>
<text transform="translate(204.00,453.55)" font-size="8.0" text-anchor="end">0.75</text>
<line x1="206.50" y1="467.50" x2="209.70" y2="467.50" stroke="#1a1a1a" stroke-width="1.0"/>
<text transform="translate(204.00,470.40)" font-size="8.0" text-anchor="end">0.50</text>
<line x1="206.50" y1="484.35" x2="209.70" y2="484.35" stroke="#1a1a1a" stroke-width="1.0"/>
<text transform="translate(204.00,487.25)" font-size="8.0" text-anchor="end">0.25</text>
<line x1="206.50" y1="501.20" x2="209.70" y2="501.20" stroke="#1a1a1a" stroke-width="1.0"/>
<text transform="translate(204.00,504.10)" font-size="8.0" text-anchor="end">0</text>
<line x1="212.80" y1="504.70" x2="212.80" y2="507.50" stroke="#1a1a1a" stroke-width="1.0"/>
<text transform="translate(212.80,517.90)" font-size="8.0" text-anchor="middle">0</text>
<line x1="230.94" y1="504.70" x2="230.94" y2="507.50" stroke="#1a1a1a" stroke-width="1.0"/>
<text transform="translate(230.94,517.90)" font-size="8.0" text-anchor="middle">6</text>
<line x1="249.08" y1="504.70" x2="249.08" y2="507.50" stroke="#1a1a1a" stroke-width="1.0"/>
<text transform="translate(249.08,517.90)" font-size="8.0" text-anchor="middle">12</text>
<line x1="267.22" y1="504.70" x2="267.22" y2="507.50" stroke="#1a1a1a" stroke-width="1.0"/>
<text transform="translate(267.22,517.90)" font-size="8.0" text-anchor="middle">18</text>
<line x1="285.36" y1="504.70" x2="285.36" y2="507.50" stroke="#1a1a1a" stroke-width="1.0"/>
<text transform="translate(285.36,517.90)" font-size="8.0" text-anchor="middle">24</text>
<line x1="303.50" y1="504.70" x2="303.50" y2="507.50" stroke="#1a1a1a" stroke-width="1.0"/>
<text transform="translate(303.50,517.90)" font-size="8.0" text-anchor="middle">30</text>
<line x1="321.64" y1="504.70" x2="321.64" y2="507.50" stroke="#1a1a1a" stroke-width="1.0"/>
<text transform="translate(321.64,517.90)" font-size="8.0" text-anchor="middle">36</text>
<line x1="339.78" y1="504.70" x2="339.78" y2="507.50" stroke="#1a1a1a" stroke-width="1.0"/>
<text transform="translate(339.78,517.90)" font-size="8.0" text-anchor="middle">42</text>
<line x1="357.92" y1="504.70" x2="357.92" y2="507.50" stroke="#1a1a1a" stroke-width="1.0"/>
<text transform="translate(357.92,517.90)" font-size="8.0" text-anchor="middle">48</text>
<text transform="translate(182.80,466.80) rotate(-90) scale(0.71,1.07)" font-size="9.0" style="stroke-width:0.15px" text-anchor="middle">Proportion surviving</text>
<text transform="translate(285.80,530.40) scale(0.71,1.15)" font-size="9.0" style="stroke-width:0.35px" text-anchor="middle">Months</text>
<text transform="translate(362.20,496.80) scale(1,1.0)" font-size="8" text-anchor="end"><tspan font-style="italic">P</tspan> = .0004</text>
<text transform="translate(155.40,542.90)" font-size="7.7">Number at risk</text>
<text transform="translate(203.70,554.10)" font-size="7.7" text-anchor="end">No TP53 mut</text>
<text transform="translate(212.80,554.10)" font-size="7.7" text-anchor="middle">75</text>
<text transform="translate(230.94,554.10)" font-size="7.7" text-anchor="middle">73</text>
<text transform="translate(249.08,554.10)" font-size="7.7" text-anchor="middle">73</text>
<text transform="translate(267.22,554.10)" font-size="7.7" text-anchor="middle">60</text>
<text transform="translate(285.36,554.10)" font-size="7.7" text-anchor="middle">48</text>
<text transform="translate(303.50,554.10)" font-size="7.7" text-anchor="middle">34</text>
<text transform="translate(321.64,554.10)" font-size="7.7" text-anchor="middle">30</text>
<text transform="translate(339.78,554.10)" font-size="7.7" text-anchor="middle">19</text>
<text transform="translate(357.92,554.10)" font-size="7.7" text-anchor="middle">7</text>
<text transform="translate(203.70,565.60) scale(0.965,1.0)" font-size="7.7" text-anchor="end">TP53 non-LOF mut</text>
<text transform="translate(212.80,565.60)" font-size="7.7" text-anchor="middle">7</text>
<text transform="translate(230.94,565.60)" font-size="7.7" text-anchor="middle">7</text>
<text transform="translate(249.08,565.60)" font-size="7.7" text-anchor="middle">7</text>
<text transform="translate(267.22,565.60)" font-size="7.7" text-anchor="middle">5</text>
<text transform="translate(285.36,565.60)" font-size="7.7" text-anchor="middle">3</text>
<text transform="translate(303.50,565.60)" font-size="7.7" text-anchor="middle">2</text>
<text transform="translate(321.64,565.60)" font-size="7.7" text-anchor="middle">0</text>
<text transform="translate(339.78,565.60)" font-size="7.7" text-anchor="middle">0</text>
<text transform="translate(357.92,565.60)" font-size="7.7" text-anchor="middle">0</text>
<text transform="translate(203.70,577.10)" font-size="7.7" text-anchor="end">TP53 LOF mut</text>
<text transform="translate(212.80,577.10)" font-size="7.7" text-anchor="middle">35</text>
<text transform="translate(230.94,577.10)" font-size="7.7" text-anchor="middle">33</text>
<text transform="translate(249.08,577.10)" font-size="7.7" text-anchor="middle">26</text>
<text transform="translate(267.22,577.10)" font-size="7.7" text-anchor="middle">19</text>
<text transform="translate(285.36,577.10)" font-size="7.7" text-anchor="middle">15</text>
<text transform="translate(303.50,577.10)" font-size="7.7" text-anchor="middle">12</text>
<text transform="translate(321.64,577.10)" font-size="7.7" text-anchor="middle">9</text>
<text transform="translate(339.78,577.10)" font-size="7.7" text-anchor="middle">5</text>
<text transform="translate(357.92,577.10)" font-size="7.7" text-anchor="middle">4</text>
<path d="M213.20 434.20H228.50V435.30H252.00V436.30H272.80V437.70H280.20V438.80H282.20V440.10H288.30V441.50H291.00V442.40H319.10V444.40H358.70" fill="none" stroke="#3b6890" stroke-width="1.15"/>
<line x1="253.90" y1="436.50" x2="253.90" y2="433.90" stroke="#2a2a2a" stroke-width="0.75"/>
<line x1="256.60" y1="436.50" x2="256.60" y2="433.90" stroke="#2a2a2a" stroke-width="0.75"/>
<line x1="258.60" y1="436.50" x2="258.60" y2="433.90" stroke="#2a2a2a" stroke-width="0.75"/>
<line x1="260.70" y1="436.50" x2="260.70" y2="433.90" stroke="#2a2a2a" stroke-width="0.75"/>
<line x1="262.70" y1="436.50" x2="262.70" y2="433.90" stroke="#2a2a2a" stroke-width="0.75"/>
<line x1="265.40" y1="436.50" x2="265.40" y2="433.90" stroke="#2a2a2a" stroke-width="0.75"/>
<line x1="268.10" y1="436.50" x2="268.10" y2="433.90" stroke="#2a2a2a" stroke-width="0.75"/>
<line x1="270.10" y1="436.50" x2="270.10" y2="433.90" stroke="#2a2a2a" stroke-width="0.75"/>
<line x1="271.40" y1="436.50" x2="271.40" y2="433.90" stroke="#2a2a2a" stroke-width="0.75"/>
<line x1="274.80" y1="437.90" x2="274.80" y2="435.30" stroke="#2a2a2a" stroke-width="0.75"/>
<line x1="276.80" y1="437.90" x2="276.80" y2="435.30" stroke="#2a2a2a" stroke-width="0.75"/>
<line x1="284.20" y1="440.30" x2="284.20" y2="437.70" stroke="#2a2a2a" stroke-width="0.75"/>
<line x1="286.20" y1="440.30" x2="286.20" y2="437.70" stroke="#2a2a2a" stroke-width="0.75"/>
<line x1="294.20" y1="442.60" x2="294.20" y2="440.00" stroke="#2a2a2a" stroke-width="0.75"/>
<line x1="296.20" y1="442.60" x2="296.20" y2="440.00" stroke="#2a2a2a" stroke-width="0.75"/>
<line x1="298.00" y1="442.60" x2="298.00" y2="440.00" stroke="#2a2a2a" stroke-width="0.75"/>
<line x1="299.70" y1="442.60" x2="299.70" y2="440.00" stroke="#2a2a2a" stroke-width="0.75"/>
<line x1="301.40" y1="442.60" x2="301.40" y2="440.00" stroke="#2a2a2a" stroke-width="0.75"/>
<line x1="305.20" y1="442.60" x2="305.20" y2="440.00" stroke="#2a2a2a" stroke-width="0.75"/>
<line x1="307.30" y1="442.60" x2="307.30" y2="440.00" stroke="#2a2a2a" stroke-width="0.75"/>
<line x1="321.20" y1="444.60" x2="321.20" y2="442.00" stroke="#2a2a2a" stroke-width="0.75"/>
<line x1="323.20" y1="444.60" x2="323.20" y2="442.00" stroke="#2a2a2a" stroke-width="0.75"/>
<line x1="325.30" y1="444.60" x2="325.30" y2="442.00" stroke="#2a2a2a" stroke-width="0.75"/>
<line x1="328.10" y1="444.60" x2="328.10" y2="442.00" stroke="#2a2a2a" stroke-width="0.75"/>
<line x1="330.20" y1="444.60" x2="330.20" y2="442.00" stroke="#2a2a2a" stroke-width="0.75"/>
<line x1="332.90" y1="444.60" x2="332.90" y2="442.00" stroke="#2a2a2a" stroke-width="0.75"/>
<line x1="335.70" y1="444.60" x2="335.70" y2="442.00" stroke="#2a2a2a" stroke-width="0.75"/>
<line x1="337.80" y1="444.60" x2="337.80" y2="442.00" stroke="#2a2a2a" stroke-width="0.75"/>
<line x1="340.10" y1="444.60" x2="340.10" y2="442.00" stroke="#2a2a2a" stroke-width="0.75"/>
<line x1="342.60" y1="444.60" x2="342.60" y2="442.00" stroke="#2a2a2a" stroke-width="0.75"/>
<line x1="344.70" y1="444.60" x2="344.70" y2="442.00" stroke="#2a2a2a" stroke-width="0.75"/>
<line x1="350.90" y1="444.60" x2="350.90" y2="442.00" stroke="#2a2a2a" stroke-width="0.75"/>
<line x1="353.00" y1="444.60" x2="353.00" y2="442.00" stroke="#2a2a2a" stroke-width="0.75"/>
<line x1="355.10" y1="444.60" x2="355.10" y2="442.00" stroke="#2a2a2a" stroke-width="0.75"/>
<line x1="357.60" y1="444.60" x2="357.60" y2="442.00" stroke="#2a2a2a" stroke-width="0.75"/>
<path d="M213.20 434.20H316.80" fill="none" stroke="#be3250" stroke-width="1.15"/>
<line x1="251.20" y1="434.40" x2="251.20" y2="431.80" stroke="#2a2a2a" stroke-width="0.75"/>
<line x1="252.60" y1="434.40" x2="252.60" y2="431.80" stroke="#2a2a2a" stroke-width="0.75"/>
<line x1="267.40" y1="434.40" x2="267.40" y2="431.80" stroke="#2a2a2a" stroke-width="0.75"/>
<line x1="272.10" y1="434.40" x2="272.10" y2="431.80" stroke="#2a2a2a" stroke-width="0.75"/>
<line x1="289.30" y1="434.40" x2="289.30" y2="431.80" stroke="#2a2a2a" stroke-width="0.75"/>
<line x1="316.50" y1="434.40" x2="316.50" y2="431.80" stroke="#2a2a2a" stroke-width="0.75"/>
<path d="M213.20 434.20H228.50V435.50H229.60V437.80H234.20V439.50H236.50V441.80H238.80V444.10H240.60V447.00H244.00V448.80H245.90V450.90H254.10V452.50H257.60V453.90H260.70V455.10H266.30V456.50H291.20V461.00H319.30V464.40H358.70" fill="none" stroke="#5eb05e" stroke-width="1.15"/>
<line x1="252.90" y1="451.10" x2="252.90" y2="448.50" stroke="#2a2a2a" stroke-width="0.75"/>
<line x1="261.10" y1="455.30" x2="261.10" y2="452.70" stroke="#2a2a2a" stroke-width="0.75"/>
<line x1="263.50" y1="455.30" x2="263.50" y2="452.70" stroke="#2a2a2a" stroke-width="0.75"/>
<line x1="272.90" y1="456.70" x2="272.90" y2="454.10" stroke="#2a2a2a" stroke-width="0.75"/>
<line x1="275.20" y1="456.70" x2="275.20" y2="454.10" stroke="#2a2a2a" stroke-width="0.75"/>
<line x1="286.50" y1="456.70" x2="286.50" y2="454.10" stroke="#2a2a2a" stroke-width="0.75"/>
<line x1="300.60" y1="461.20" x2="300.60" y2="458.60" stroke="#2a2a2a" stroke-width="0.75"/>
<line x1="308.10" y1="461.20" x2="308.10" y2="458.60" stroke="#2a2a2a" stroke-width="0.75"/>
<line x1="316.30" y1="461.20" x2="316.30" y2="458.60" stroke="#2a2a2a" stroke-width="0.75"/>
<line x1="324.50" y1="464.60" x2="324.50" y2="462.00" stroke="#2a2a2a" stroke-width="0.75"/>
<line x1="330.40" y1="464.60" x2="330.40" y2="462.00" stroke="#2a2a2a" stroke-width="0.75"/>
<line x1="336.20" y1="464.60" x2="336.20" y2="462.00" stroke="#2a2a2a" stroke-width="0.75"/>
<line x1="354.60" y1="464.60" x2="354.60" y2="462.00" stroke="#2a2a2a" stroke-width="0.75"/>
<line x1="358.50" y1="464.60" x2="358.50" y2="462.00" stroke="#2a2a2a" stroke-width="0.75"/>
<line x1="134.00" y1="589.20" x2="152.30" y2="589.20" stroke="#5b7d9a" stroke-width="1.3"/>
<text transform="translate(155.00,591.80)" font-size="7.7">No TP53 mut</text>
<line x1="208.90" y1="589.20" x2="227.70" y2="589.20" stroke="#c9526e" stroke-width="1.3"/>
<text transform="translate(231.00,591.80) scale(0.965,1.0)" font-size="7.7">TP53 non-LOF mut</text>
<line x1="307.90" y1="589.20" x2="326.20" y2="589.20" stroke="#80c07e" stroke-width="1.3"/>
<text transform="translate(329.40,591.80)" font-size="7.7">TP53 LOF mut</text>
<rect x="0.5" y="0.5" width="519" height="605" fill="none" stroke="#606060" stroke-width="1"/>
</svg>
</body></html>
